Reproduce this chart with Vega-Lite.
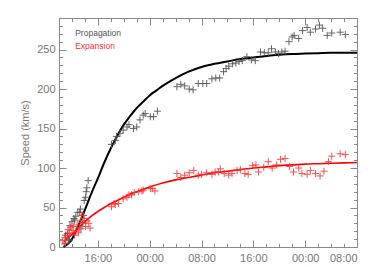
{
  "$schema": "https://vega.github.io/schema/vega-lite/v6.json",
  "width": 298,
  "height": 229,
  "autosize": {"type": "none"},
  "padding": {"left": 59, "top": 18, "right": 17, "bottom": 20},
  "background": "white",
  "config": {
    "view": {"stroke": "#888", "strokeWidth": 1},
    "axis": {"grid": false, "domain": false, "labelFont": "Liberation Sans", "labelFontSize": 11, "labelColor": "#777", "tickColor": "#888", "titleFont": "Liberation Sans", "titleFontSize": 11, "titleColor": "#777", "titleFontWeight": "normal"}
  },
  "datasets": {
    "prop_pts": [
      {"t": 10.9, "v": 4}, {"t": 11.0, "v": 15}, {"t": 11.3, "v": 17}, {"t": 11.5, "v": 10}, {"t": 11.6, "v": 8}, {"t": 11.7, "v": 27}, {"t": 12.0, "v": 32}, {"t": 12.3, "v": 36}, {"t": 12.4, "v": 34}, {"t": 12.6, "v": 39}, {"t": 12.9, "v": 44}, {"t": 13.2, "v": 44}, {"t": 13.3, "v": 48}, {"t": 13.4, "v": 23}, {"t": 13.6, "v": 31}, {"t": 13.8, "v": 40}, {"t": 13.9, "v": 59}, {"t": 14.1, "v": 63}, {"t": 14.2, "v": 70}, {"t": 14.3, "v": 75}, {"t": 14.5, "v": 84},
      {"t": 18.1, "v": 130}, {"t": 18.7, "v": 135}, {"t": 18.9, "v": 140}, {"t": 19.4, "v": 144}, {"t": 19.9, "v": 148}, {"t": 20.5, "v": 152}, {"t": 20.8, "v": 155}, {"t": 21.5, "v": 150}, {"t": 22.0, "v": 152}, {"t": 22.5, "v": 161}, {"t": 23.0, "v": 167}, {"t": 23.3, "v": 169}, {"t": 24.1, "v": 165}, {"t": 24.6, "v": 165}, {"t": 25.2, "v": 172},
      {"t": 28.2, "v": 203}, {"t": 28.8, "v": 206}, {"t": 29.4, "v": 204}, {"t": 30.1, "v": 200}, {"t": 30.7, "v": 199}, {"t": 31.5, "v": 207}, {"t": 32.2, "v": 207}, {"t": 32.8, "v": 207}, {"t": 33.6, "v": 213}, {"t": 34.2, "v": 214}, {"t": 34.8, "v": 214}, {"t": 35.4, "v": 222}, {"t": 35.8, "v": 226}, {"t": 36.2, "v": 229}, {"t": 36.8, "v": 232}, {"t": 37.3, "v": 233}, {"t": 37.8, "v": 235}, {"t": 38.3, "v": 236}, {"t": 39.0, "v": 241}, {"t": 39.7, "v": 237}, {"t": 40.3, "v": 236}, {"t": 41.1, "v": 247}, {"t": 41.7, "v": 246}, {"t": 42.3, "v": 246}, {"t": 42.8, "v": 251}, {"t": 43.4, "v": 247}, {"t": 43.9, "v": 245}, {"t": 44.4, "v": 247}, {"t": 44.9, "v": 248}, {"t": 45.5, "v": 260}, {"t": 46.0, "v": 266}, {"t": 46.3, "v": 268}, {"t": 47.0, "v": 264}, {"t": 47.6, "v": 274}, {"t": 48.3, "v": 278}, {"t": 48.8, "v": 272}, {"t": 49.6, "v": 276}, {"t": 50.2, "v": 281}, {"t": 50.7, "v": 277}, {"t": 51.4, "v": 268}, {"t": 52.1, "v": 271}, {"t": 53.4, "v": 272}, {"t": 54.2, "v": 269}
    ],
    "exp_pts": [
      {"t": 10.6, "v": 8}, {"t": 10.9, "v": 12}, {"t": 11.0, "v": 5}, {"t": 11.3, "v": 14}, {"t": 11.4, "v": 22}, {"t": 11.6, "v": 18}, {"t": 11.8, "v": 25}, {"t": 12.0, "v": 21}, {"t": 12.2, "v": 26}, {"t": 12.4, "v": 15}, {"t": 12.6, "v": 20}, {"t": 12.8, "v": 28}, {"t": 13.0, "v": 18}, {"t": 13.2, "v": 24}, {"t": 13.3, "v": 33}, {"t": 13.5, "v": 40}, {"t": 13.7, "v": 30}, {"t": 13.9, "v": 36}, {"t": 14.1, "v": 26}, {"t": 14.3, "v": 33}, {"t": 14.6, "v": 30}, {"t": 14.8, "v": 24},
      {"t": 18.1, "v": 51}, {"t": 18.5, "v": 55}, {"t": 18.7, "v": 54}, {"t": 19.2, "v": 55}, {"t": 19.9, "v": 61}, {"t": 20.5, "v": 63}, {"t": 20.8, "v": 66}, {"t": 21.2, "v": 66}, {"t": 21.6, "v": 69}, {"t": 22.3, "v": 70}, {"t": 22.8, "v": 71}, {"t": 23.0, "v": 72}, {"t": 24.1, "v": 74}, {"t": 24.4, "v": 74}, {"t": 24.8, "v": 71},
      {"t": 28.2, "v": 93}, {"t": 28.8, "v": 88}, {"t": 29.4, "v": 91}, {"t": 30.1, "v": 94}, {"t": 30.8, "v": 97}, {"t": 31.5, "v": 91}, {"t": 32.0, "v": 92}, {"t": 32.8, "v": 94}, {"t": 33.6, "v": 92}, {"t": 34.1, "v": 95}, {"t": 34.6, "v": 95}, {"t": 34.9, "v": 99}, {"t": 35.5, "v": 93}, {"t": 36.2, "v": 91}, {"t": 36.7, "v": 93}, {"t": 37.5, "v": 97}, {"t": 38.0, "v": 98}, {"t": 38.7, "v": 93}, {"t": 39.2, "v": 92}, {"t": 39.9, "v": 103}, {"t": 40.4, "v": 104}, {"t": 40.8, "v": 95}, {"t": 41.6, "v": 101}, {"t": 42.3, "v": 108}, {"t": 42.9, "v": 100}, {"t": 43.6, "v": 104}, {"t": 44.2, "v": 111}, {"t": 44.9, "v": 112}, {"t": 45.6, "v": 102}, {"t": 46.2, "v": 95}, {"t": 47.0, "v": 100}, {"t": 47.5, "v": 93}, {"t": 48.3, "v": 92}, {"t": 48.8, "v": 97}, {"t": 49.6, "v": 93}, {"t": 50.3, "v": 90}, {"t": 50.9, "v": 96}, {"t": 51.6, "v": 108}, {"t": 52.1, "v": 115}, {"t": 53.4, "v": 118}, {"t": 54.2, "v": 117}
    ],
    "prop_fit": [
      {"t": 10.7, "v": 0}, {"t": 11.5, "v": 5}, {"t": 12, "v": 10}, {"t": 12.5, "v": 18}, {"t": 13, "v": 27}, {"t": 13.5, "v": 37}, {"t": 14, "v": 47}, {"t": 15, "v": 68}, {"t": 16, "v": 87}, {"t": 17, "v": 107}, {"t": 18, "v": 125}, {"t": 19, "v": 141}, {"t": 20, "v": 155}, {"t": 21, "v": 166}, {"t": 22, "v": 176}, {"t": 23, "v": 184}, {"t": 24, "v": 192}, {"t": 25, "v": 198}, {"t": 26, "v": 204}, {"t": 28, "v": 214}, {"t": 30, "v": 222}, {"t": 32, "v": 228}, {"t": 34, "v": 232}, {"t": 36, "v": 235}, {"t": 38, "v": 238}, {"t": 40, "v": 240}, {"t": 42, "v": 242}, {"t": 44, "v": 243.5}, {"t": 46, "v": 244.5}, {"t": 48, "v": 245}, {"t": 50, "v": 245.5}, {"t": 52, "v": 246}, {"t": 54, "v": 246}, {"t": 56, "v": 246}
    ],
    "exp_fit": [
      {"t": 10.7, "v": 7}, {"t": 11, "v": 9}, {"t": 12, "v": 16}, {"t": 13, "v": 24}, {"t": 14, "v": 32}, {"t": 15, "v": 39}, {"t": 16, "v": 45}, {"t": 17, "v": 50}, {"t": 18, "v": 55}, {"t": 19, "v": 59}, {"t": 20, "v": 63}, {"t": 21, "v": 67}, {"t": 22, "v": 70}, {"t": 24, "v": 76}, {"t": 26, "v": 81}, {"t": 28, "v": 85}, {"t": 30, "v": 88}, {"t": 32, "v": 91}, {"t": 34, "v": 94}, {"t": 36, "v": 96}, {"t": 38, "v": 98}, {"t": 40, "v": 100}, {"t": 42, "v": 101.5}, {"t": 44, "v": 103}, {"t": 46, "v": 104}, {"t": 48, "v": 105}, {"t": 50, "v": 105.5}, {"t": 52, "v": 106}, {"t": 54, "v": 106.5}, {"t": 56, "v": 107}
    ]
  },
  "resolve": {"axis": {"x": "independent", "y": "independent"}},
  "layer": [
    {
      "data": {"name": "prop_fit"},
      "mark": {"type": "line", "color": "black", "strokeWidth": 2, "interpolate": "monotone"},
      "encoding": {
        "x": {"field": "t", "type": "quantitative", "scale": {"domain": [10, 56], "nice": false, "zero": false},
          "axis": {"orient": "bottom", "title": null, "ticks": false, "labelPadding": 5, "values": [16, 24, 32, 40, 48, 56], "labelExpr": "(datum.value % 24 < 10 ? '0' : '') + (datum.value % 24) + ':00'"}},
        "y": {"field": "v", "type": "quantitative", "scale": {"domain": [0, 290], "nice": false},
          "axis": {"orient": "left", "title": "Speed (km/s)", "ticks": false, "labelPadding": 4, "titlePadding": 6, "values": [0, 50, 100, 150, 200, 250]}}
      }
    },
    {
      "data": {"name": "exp_fit"},
      "mark": {"type": "line", "color": "#ff0000", "strokeWidth": 1.6, "interpolate": "monotone"},
      "encoding": {
        "x": {"field": "t", "type": "quantitative", "axis": {"orient": "bottom", "title": null, "labels": false, "tickSize": -7, "values": [16, 24, 32, 40, 48, 56]}},
        "y": {"field": "v", "type": "quantitative", "axis": {"orient": "left", "title": null, "labels": false, "tickSize": -7, "values": [0, 50, 100, 150, 200, 250]}}
      }
    },
    {
      "data": {"name": "prop_pts"},
      "mark": {"type": "point", "shape": "M-1,0H1M0,-1V1", "size": 50, "filled": false, "stroke": "#555", "strokeWidth": 1, "opacity": 0.9},
      "encoding": {
        "x": {"field": "t", "type": "quantitative", "axis": {"orient": "bottom", "title": null, "labels": false, "tickSize": -3.5, "values": [10, 12, 14, 16, 18, 20, 22, 24, 26, 28, 30, 32, 34, 36, 38, 40, 42, 44, 46, 48, 50, 52, 54, 56]}},
        "y": {"field": "v", "type": "quantitative", "axis": {"orient": "left", "title": null, "labels": false, "tickSize": -3.5, "values": [0, 10, 20, 30, 40, 50, 60, 70, 80, 90, 100, 110, 120, 130, 140, 150, 160, 170, 180, 190, 200, 210, 220, 230, 240, 250, 260, 270, 280, 290]}}
      }
    },
    {
      "data": {"name": "exp_pts"},
      "mark": {"type": "point", "shape": "M-1,0H1M0,-1V1", "size": 50, "filled": false, "stroke": "#ff3030", "strokeWidth": 1, "opacity": 0.85},
      "encoding": {
        "x": {"field": "t", "type": "quantitative", "axis": {"orient": "top", "title": null, "labels": false, "tickSize": -7, "values": [16, 24, 32, 40, 48, 56]}},
        "y": {"field": "v", "type": "quantitative", "axis": {"orient": "right", "title": null, "labels": false, "tickSize": -7, "values": [0, 50, 100, 150, 200, 250]}}
      }
    },
    {
      "data": {"values": [{"label": "Propagation"}]},
      "mark": {"type": "text", "align": "left", "baseline": "middle", "font": "Liberation Sans", "fontSize": 8.5, "color": "#555"},
      "encoding": {
        "x": {"datum": 12.5, "type": "quantitative", "axis": {"orient": "top", "title": null, "labels": false, "tickSize": -3.5, "values": [10, 12, 14, 16, 18, 20, 22, 24, 26, 28, 30, 32, 34, 36, 38, 40, 42, 44, 46, 48, 50, 52, 54, 56]}},
        "y": {"datum": 271, "type": "quantitative", "axis": {"orient": "right", "title": null, "labels": false, "tickSize": -3.5, "values": [0, 10, 20, 30, 40, 50, 60, 70, 80, 90, 100, 110, 120, 130, 140, 150, 160, 170, 180, 190, 200, 210, 220, 230, 240, 250, 260, 270, 280, 290]}},
        "text": {"field": "label"}
      }
    },
    {
      "data": {"values": [{"label": "Expansion"}]},
      "mark": {"type": "text", "align": "left", "baseline": "middle", "font": "Liberation Sans", "fontSize": 8.5, "color": "#ff3030"},
      "encoding": {
        "x": {"datum": 12.5, "type": "quantitative", "axis": null},
        "y": {"datum": 254, "type": "quantitative", "axis": null},
        "text": {"field": "label"}
      }
    }
  ]
}
